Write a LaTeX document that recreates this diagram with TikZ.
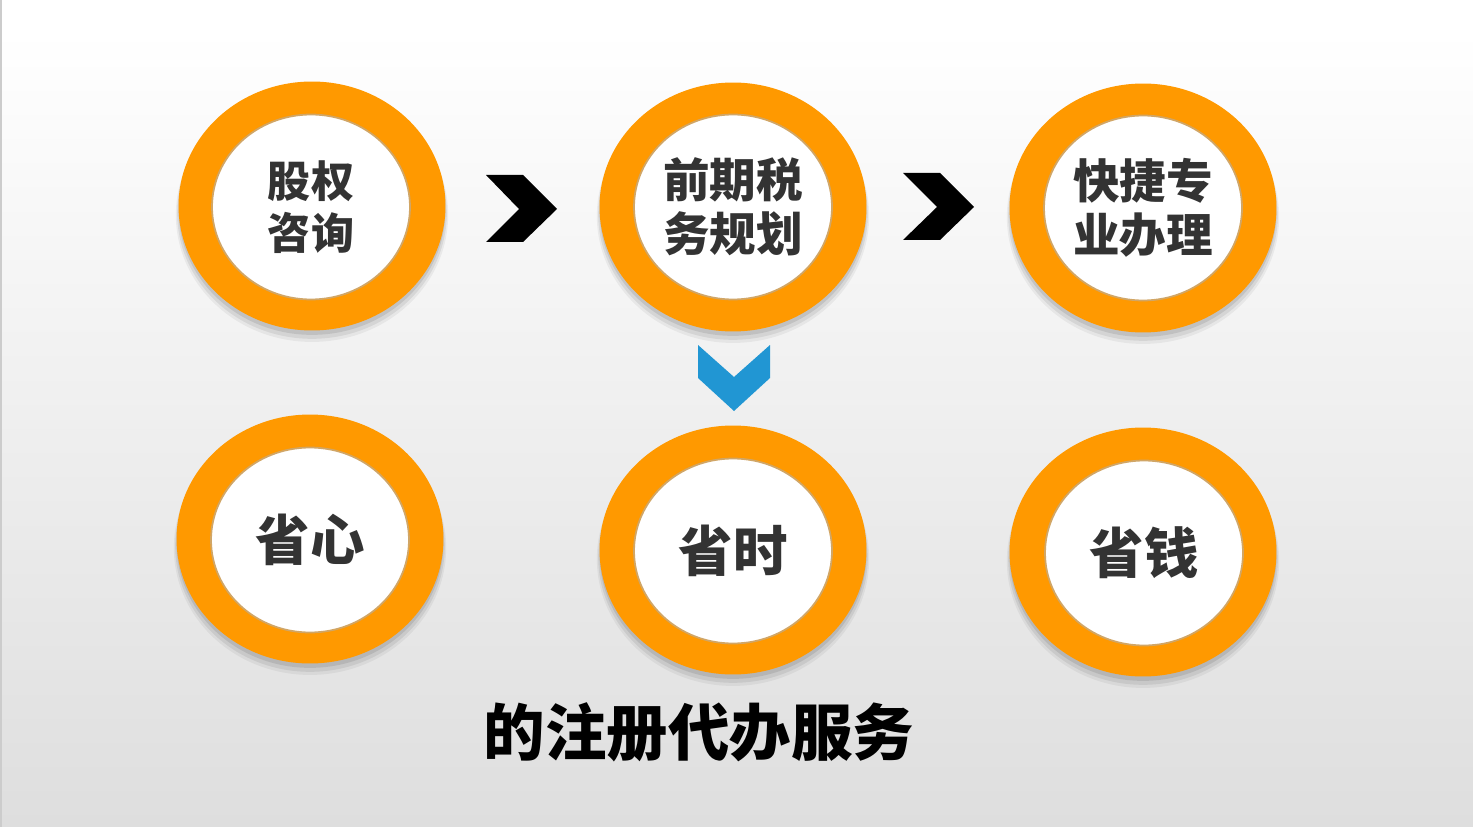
\documentclass[tikz,border=0pt]{standalone}
\usepackage{fontspec}
\newfontfamily\cjk{Noto Sans CJK SC}
\usetikzlibrary{shapes.geometric,shadows}
\definecolor{ring}{HTML}{FF9900}
\definecolor{ringedge}{HTML}{B36B00}
\definecolor{txt}{HTML}{333333}
\definecolor{chevblue}{HTML}{2196D3}
\definecolor{bgbottom}{HTML}{DEDEDE}
\tikzset{
  outerring/.style={ellipse, fill=ring, minimum width=5.34cm, minimum height=4.98cm, inner sep=0pt,
    drop shadow={shadow xshift=0pt, shadow yshift=-5pt, shadow scale=1.02, opacity=0.05, fill=black},
    drop shadow={shadow xshift=0pt, shadow yshift=-4pt, shadow scale=1.01, opacity=0.07, fill=black},
    drop shadow={shadow xshift=0pt, shadow yshift=-2.5pt, opacity=0.09, fill=black}},
  innerdisc/.style={ellipse, fill=white, draw=ringedge!60, line width=1pt, minimum width=3.96cm, minimum height=3.70cm, inner sep=0pt,
    text=txt, align=center, font=\cjk\bfseries},
  chevblack/.style={fill=black},
  chevdown/.style={fill=chevblue},
}
\begin{document}
\begin{tikzpicture}[x=0.02cm, y=-0.02cm]
\useasboundingbox (0,0) rectangle (1473,827);
\fill[white] (0,0) rectangle (1473,30);
\shade[top color=white, bottom color=bgbottom] (0,30) rectangle (1473,827);
\fill[gray!40] (0,0) rectangle (2,827);

% top row
\node[outerring] (r1) at (312,206) {};
\node[innerdisc, font=\cjk\bfseries\fontsize{24.5pt}{29.5pt}\selectfont] (c1) at (311,207) {股权\\咨询};
\node[outerring] (r2) at (733,207) {};
\node[innerdisc, font=\cjk\bfseries\fontsize{26.5pt}{30.5pt}\selectfont] (c2) at (733,207) {前期税\\务规划};
\node[outerring] (r3) at (1143,208) {};
\node[innerdisc, font=\cjk\bfseries\fontsize{26.5pt}{30.5pt}\selectfont] (c3) at (1143,208) {快捷专\\业办理};

% bottom row
\node[outerring] (r4) at (310,539) {};
\node[innerdisc, font=\cjk\bfseries\fontsize{31pt}{36pt}\selectfont] (c4) at (310,540) {省心};
\node[outerring] (r5) at (733,550) {};
\node[innerdisc, font=\cjk\bfseries\fontsize{31pt}{36pt}\selectfont] (c5) at (733,551) {省时};
\node[outerring] (r6) at (1143,552) {};
\node[innerdisc, font=\cjk\bfseries\fontsize{31pt}{36pt}\selectfont] (c6) at (1144,553) {省钱};

% chevrons
\fill[chevblack] (486,175) -- (523,175) -- (557,209) -- (523,242) -- (486,242) -- (519,209) -- cycle;
\fill[chevblack] (903,173) -- (940,173) -- (974,207) -- (940,240) -- (903,240) -- (937,207) -- cycle;
\fill[chevdown] (698,345) -- (734,377) -- (770,345) -- (770,378) -- (734,411) -- (698,378) -- cycle;

% title
\node[font=\cjk\bfseries\fontsize{35pt}{40pt}\selectfont, text=black] (title) at (699,732) {的注册代办服务};
\end{tikzpicture}
\end{document}
